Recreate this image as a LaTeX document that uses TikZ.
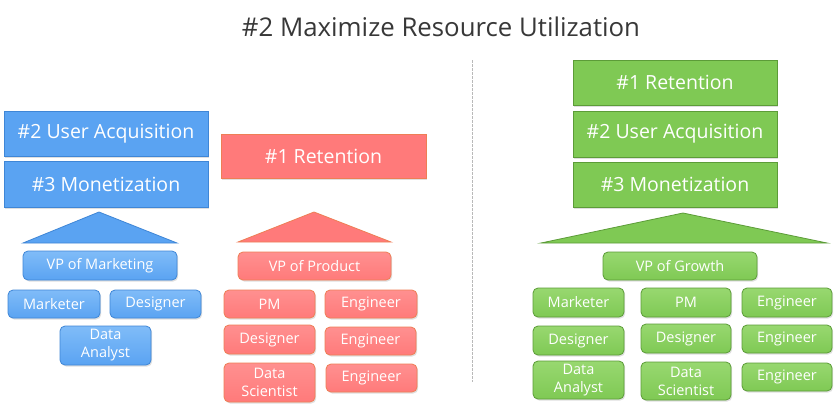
\documentclass[tikz,border=0pt]{standalone}
\usepackage{fontspec}
\setmainfont{Open Sans}
\usetikzlibrary{shadows}
\definecolor{bluef}{HTML}{5AA3F2}
\definecolor{bluet}{HTML}{80BCF8}
\definecolor{blueb}{HTML}{3F86D6}
\definecolor{redf}{HTML}{FF7A7A}
\definecolor{redt}{HTML}{FF9090}
\definecolor{redb}{HTML}{EE7E55}
\definecolor{greenf}{HTML}{7FC954}
\definecolor{greent}{HTML}{98D870}
\definecolor{greenb}{HTML}{5C9C38}
\definecolor{titlec}{HTML}{383838}
\newcommand\pbox[7]{%
  \node[#1, minimum width={(#5-#3)*1pt}, minimum height={(#6-#4)*1pt}] (#2) at ({(#3+#5)/2},{(#4+#6)/2}) {#7};}
\begin{document}
\begin{tikzpicture}[x=1pt,y=-1pt,
  shad/.style={drop shadow={opacity=0.25,shadow xshift=1.2pt,shadow yshift=-1.5pt}},
  bigbox/.style={rectangle, draw, line width=1pt, inner sep=0pt, text=white, shad,
    font=\fontsize{19.5}{23}\selectfont},
  smallbox/.style={rectangle, rounded corners=5pt, draw, line width=0.8pt, inner sep=0pt,
    text=white, align=center, shad, font=\fontsize{14.5}{18}\selectfont},
  bluebig/.style={bigbox, fill=bluef, draw=blueb},
  redbig/.style={bigbox, fill=redf, draw=redb},
  greenbig/.style={bigbox, fill=greenf, draw=greenb},
  bluesm/.style={smallbox, top color=bluet, bottom color=bluef, draw=blueb},
  redsm/.style={smallbox, top color=redt, bottom color=redf, draw=redb},
  greensm/.style={smallbox, top color=greent, bottom color=greenf, draw=greenb},
  roof/.style={line width=0.8pt, line join=miter}
]
\useasboundingbox (0,0) rectangle (837,418);
\fill[white] (0,0) rectangle (837,418);

\node[text=titlec, font=\fontsize{25.8}{30}\selectfont] (title) at (441,27) {\#2 Maximize Resource Utilization};

% divider
\coordinate (dtop) at (472,60);
\coordinate (dbot) at (472,382);
\draw[gray!55, line width=1pt, dash pattern=on 2.5pt off 1.5pt] (dtop) -- (dbot);

% ---------- blue (marketing) ----------
\pbox{bluebig}{bua}{4}{111}{208}{156}{\#2 User Acquisition}
\pbox{bluebig}{bmo}{4}{161}{208}{207}{\#3 Monetization}
\fill[bluef, draw=blueb, roof] (23,243) -- (99,212) -- (177,243) -- cycle;
\pbox{bluesm}{bvp}{23}{251}{177}{280}{VP of Marketing}
\pbox{bluesm}{bmk}{8}{290}{100}{318}{Marketer}
\pbox{bluesm}{bds}{110}{290}{201}{318}{Designer}
\pbox{bluesm}{bda}{60}{326}{151}{365}{Data\\Analyst}

% ---------- red (product) ----------
\pbox{redbig}{rre}{221}{134}{426}{178}{\#1 Retention}
\fill[redf, draw=redb, roof] (238,242) -- (314,212) -- (391,242) -- cycle;
\pbox{redsm}{rvp}{238}{252}{391}{280}{VP of Product}
\pbox{redsm}{rpm}{224}{290}{315}{318}{PM}
\pbox{redsm}{re1}{325}{290}{417}{318}{Engineer}
\pbox{redsm}{rds}{224}{325}{315}{354}{Designer}
\pbox{redsm}{re2}{325}{327}{416}{355}{Engineer}
\pbox{redsm}{rsc}{224}{363}{315}{402}{Data\\Scientist}
\pbox{redsm}{re3}{326}{364}{417}{392}{Engineer}

% ---------- green (growth) ----------
\pbox{greenbig}{gre}{573}{60}{777}{105}{\#1 Retention}
\pbox{greenbig}{gua}{573}{111}{777}{157}{\#2 User Acquisition}
\pbox{greenbig}{gmo}{573}{162}{777}{207}{\#3 Monetization}
\fill[greenf, draw=greenb, roof] (541,243) -- (683,213) -- (827,243) -- cycle;
\pbox{greensm}{gvp}{603}{252}{757}{280}{VP of Growth}
\pbox{greensm}{gmk}{533}{288}{624}{317}{Marketer}
\pbox{greensm}{gpm}{641}{288}{731}{317}{PM}
\pbox{greensm}{ge1}{742}{288}{832}{317}{Engineer}
\pbox{greensm}{gd1}{533}{326}{624}{355}{Designer}
\pbox{greensm}{gd2}{641}{324}{731}{353}{Designer}
\pbox{greensm}{ge2}{742}{325}{832}{353}{Engineer}
\pbox{greensm}{gda}{533}{361}{624}{399}{Data\\Analyst}
\pbox{greensm}{gsc}{641}{362}{731}{400}{Data\\Scientist}
\pbox{greensm}{ge3}{742}{363}{832}{391}{Engineer}
\end{tikzpicture}
\end{document}
